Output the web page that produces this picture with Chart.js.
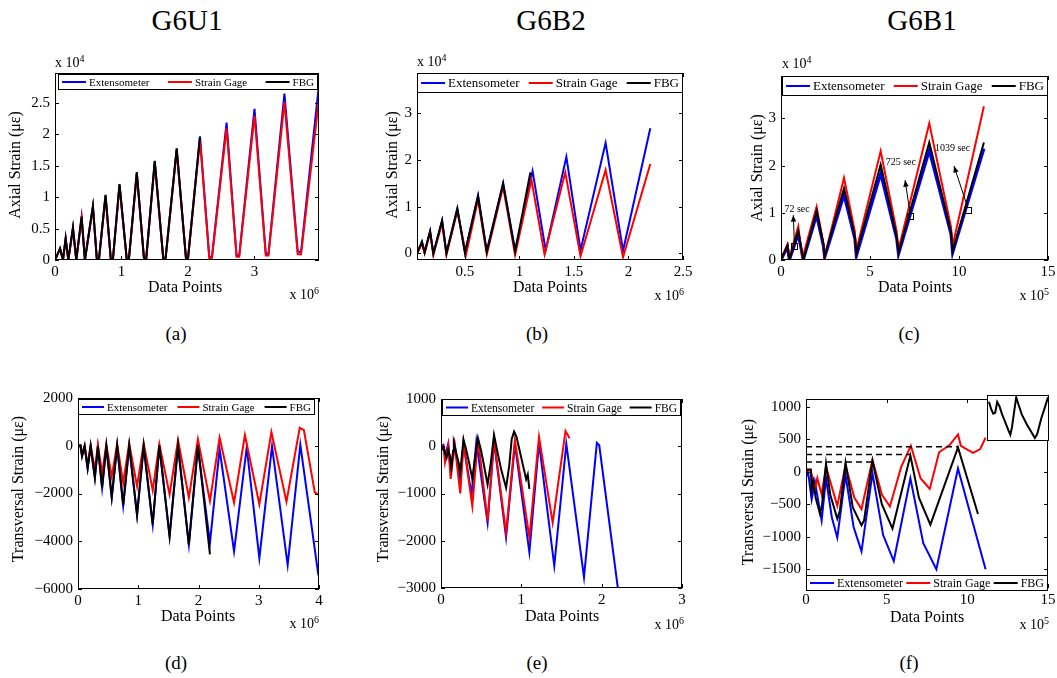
<!DOCTYPE html>
<html>
<head>
<meta charset="utf-8">
<script src="https://cdn.jsdelivr.net/npm/chart.js@4.4.0/dist/chart.umd.min.js"></script>
<style>
body{margin:0;background:#fff;width:1057px;height:678px;position:relative;overflow:hidden;font-family:"Liberation Serif","Times New Roman",serif;}
canvas{position:absolute;}
.t{position:absolute;white-space:nowrap;color:#000;line-height:1;}
.inset{position:absolute;left:987px;top:395px;width:60px;height:44px;border:1px solid #000;background:#fff;}
</style>
</head>
<body>
<script>
var FONT = '"Liberation Serif", "Times New Roman", serif';
var names = ['Extensometer', 'Strain Gage', 'FBG'];
var colors = ['#0000ff', '#ff0000', '#000000'];

// (a) G6U1 axial, x in 1e6, y in 1e4
var aXTicks = [0, 1, 2, 3];
var aYTicks = [0, 0.5, 1, 1.5, 2, 2.5];
var aExt = [[0,0],[0.076,0.18],[0.12,0],[0.16,0.34],[0.2,0],[0.27,0.51],[0.32,0],[0.40,0.68],[0.45,0],[0.57,0.85],[0.63,0],[0.66,0],[0.76,1.03],[0.84,0],[0.87,0],[0.97,1.2],[1.08,0],[1.11,0],[1.23,1.39],[1.34,0],[1.37,0],[1.5,1.57],[1.63,0],[1.66,0],[1.83,1.77],[1.97,0.03],[2.0,0.03],[2.18,1.97],[2.32,0.05],[2.36,0.05],[2.58,2.19],[2.73,0.07],[2.77,0.07],[3.0,2.41],[3.17,0.1],[3.21,0.1],[3.45,2.65],[3.65,0.13],[3.7,0.13],[3.97,2.8]];
var aGage = [[0,0],[0.076,0.17],[0.12,0],[0.16,0.33],[0.2,0],[0.27,0.5],[0.32,0],[0.40,0.67],[0.45,0],[0.57,0.84],[0.63,0],[0.66,0],[0.76,1.01],[0.84,0],[0.87,0],[0.97,1.18],[1.08,0],[1.11,0],[1.23,1.37],[1.34,0],[1.37,0],[1.5,1.55],[1.63,0],[1.66,0],[1.83,1.74],[1.97,0.02],[2.0,0.02],[2.18,1.92],[2.32,0.03],[2.36,0.03],[2.58,2.1],[2.73,0.05],[2.77,0.05],[3.0,2.3],[3.17,0.07],[3.21,0.07],[3.45,2.52],[3.65,0.09],[3.7,0.09],[3.97,2.57]];
var aFbg = [[0,0],[0.076,0.19],[0.12,0],[0.16,0.35],[0.2,0],[0.27,0.52],[0.32,0],[0.40,0.69],[0.45,0],[0.57,0.86],[0.63,0],[0.66,0],[0.76,1.04],[0.84,0],[0.87,0],[0.97,1.21],[1.08,0],[1.11,0],[1.23,1.4],[1.34,0],[1.37,0],[1.5,1.58],[1.63,0],[1.66,0],[1.83,1.78],[1.97,0.02],[2.0,0.02],[2.18,1.96]];

// (b) G6B2 axial, x in 1e6, y in 1e4
var bXTicks = [0.5, 1, 1.5, 2, 2.5];
var bYTicks = [0, 1, 2, 3];
var bExt = [[0.06,0],[0.105,0.245],[0.13,0.03],[0.18,0.48],[0.21,0],[0.29,0.70],[0.33,0.01],[0.43,0.96],[0.50,0.02],[0.62,1.24],[0.70,0.05],[0.85,1.50],[0.96,0.07],[1.12,1.76],[1.24,0.07],[1.43,2.06],[1.56,0.07],[1.79,2.36],[1.95,0.06],[2.2,2.67]];
var bGage = [[0.06,0],[0.105,0.2],[0.13,0],[0.18,0.45],[0.21,-0.03],[0.29,0.65],[0.33,-0.03],[0.43,0.9],[0.51,-0.02],[0.62,1.15],[0.70,-0.02],[0.85,1.42],[0.96,-0.03],[1.11,1.57],[1.23,-0.02],[1.42,1.73],[1.56,-0.06],[1.79,1.78],[1.95,-0.08],[2.2,1.91]];
var bFbg = [[0.06,0],[0.105,0.25],[0.13,0.02],[0.18,0.47],[0.21,0],[0.29,0.70],[0.33,0],[0.43,0.95],[0.50,0.01],[0.62,1.22],[0.70,0.03],[0.85,1.49],[0.96,0.04],[1.10,1.73]];

// (c) G6B1 axial, x in 1e5, y in 1e4
var cXTicks = [0, 5, 10, 15];
var cYTicks = [0, 1, 2, 3];
var cExt = [[0,0],[0.36,0.28],[0.47,0],[0.97,0.55],[1.25,0],[2.0,0.95],[2.38,0.3],[2.45,0.05],[3.54,1.38],[4.15,0.45],[4.23,0.08],[5.6,1.83],[6.5,0.45],[6.6,0.12],[8.33,2.32],[9.55,0.55],[9.64,0.15],[11.4,2.36]];
var cGage = [[0,0],[0.36,0.33],[0.47,0.05],[0.97,0.71],[1.2,0.03],[2.0,1.13],[2.36,0.4],[2.45,0.07],[3.54,1.74],[4.15,0.6],[4.21,0.17],[5.6,2.31],[6.5,0.6],[6.59,0.2],[8.33,2.90],[9.55,0.7],[9.64,0.3],[11.4,3.26]];
var cFbg = [[0,0],[0.36,0.31],[0.47,0],[0.97,0.62],[1.25,0],[2.0,1.04],[2.38,0.35],[2.45,0.08],[3.54,1.52],[4.15,0.5],[4.23,0.14],[5.6,2.02],[6.5,0.5],[6.6,0.16],[8.33,2.49],[9.55,0.6],[9.64,0.19],[11.4,2.49]];
var cNotes = [
  {text: '72 sec', tx: 0.19, ty: 1.07, sx: 0.75, sy: 0.30, ax: 0.69, ay: 0.95},
  {text: '725 sec', tx: 5.88, ty: 2.07, sx: 7.25, sy: 0.93, ax: 6.97, ay: 1.69},
  {text: '1039 sec', tx: 8.65, ty: 2.36, sx: 10.49, sy: 1.05, ax: 9.72, ay: 1.99}
];

// (d) G6U1 transversal, x in 1e6
var dXTicks = [0, 1, 2, 3, 4];
var dYTicks = [-6000, -4000, -2000, 0, 2000];
var dExt = [[0,0],[0.04,0],[0.067,-400],[0.11,-70],[0.16,-950],[0.21,-70],[0.28,-1320],[0.33,-70],[0.40,-1770],[0.47,-70],[0.56,-2170],[0.65,-40],[0.75,-2510],[0.85,-40],[0.98,-2900],[1.09,-70],[1.24,-3300],[1.35,-40],[1.52,-3780],[1.66,-40],[1.84,-4140],[1.99,-70],[2.19,-4070],[2.35,-140],[2.59,-4420],[2.8,-70],[3.01,-4710],[3.22,-30],[3.48,-5000],[3.69,40],[3.99,-5430]];
var dGage = [[0,0],[0.04,20],[0.067,-350],[0.11,0],[0.16,-800],[0.21,20],[0.28,-1000],[0.33,30],[0.40,-1150],[0.47,50],[0.56,-1290],[0.65,70],[0.75,-1560],[0.85,100],[0.98,-1700],[1.09,100],[1.24,-1860],[1.35,70],[1.52,-2040],[1.66,230],[1.84,-2170],[1.99,270],[2.19,-2310],[2.35,340],[2.59,-2380],[2.77,450],[3.01,-2450],[3.21,570],[3.46,-2340],[3.68,750],[3.75,650],[3.93,-1950],[3.99,-2050]];
var dFbg = [[0,0],[0.04,20],[0.067,-450],[0.11,0],[0.16,-950],[0.21,0],[0.28,-1350],[0.33,0],[0.40,-1750],[0.47,20],[0.56,-2150],[0.65,30],[0.75,-2500],[0.85,30],[0.98,-2900],[1.09,20],[1.24,-3300],[1.35,30],[1.52,-3800],[1.66,20],[1.84,-4150],[1.99,30],[2.19,-4550]];

// (e) G6B2 transversal, x in 1e6
var eXTicks = [0, 1, 2, 3];
var eYTicks = [-3000, -2000, -1000, 0, 1000];
var eExt = [[0,0],[0.03,30],[0.05,-200],[0.09,50],[0.12,-520],[0.17,50],[0.24,-760],[0.28,70],[0.38,-1030],[0.44,100],[0.58,-1620],[0.66,100],[0.81,-1930],[0.92,50],[1.10,-2240],[1.22,70],[1.41,-2530],[1.56,50],[1.78,-2770],[1.94,70],[1.97,20],[2.2,-2980]];
var eGage = [[0,0],[0.03,0],[0.05,-340],[0.09,30],[0.12,-690],[0.17,30],[0.24,-1000],[0.28,70],[0.39,-1270],[0.46,170],[0.58,-1580],[0.66,140],[0.81,-1830],[0.92,120],[1.10,-1930],[1.22,200],[1.39,-1620],[1.55,320],[1.6,170]];
var eFbg = [[0,0],[0.02,-60],[0.035,-30],[0.05,-150],[0.07,-240],[0.09,-80],[0.11,-200],[0.13,-450],[0.15,-100],[0.16,70],[0.19,-150],[0.22,-350],[0.24,-550],[0.26,-200],[0.28,140],[0.31,-50],[0.35,-350],[0.39,-690],[0.42,-300],[0.46,170],[0.5,-100],[0.54,-450],[0.58,-810],[0.62,-350],[0.66,240],[0.7,-100],[0.75,-500],[0.81,-880],[0.85,-400],[0.88,150],[0.91,310],[0.94,200],[0.98,-100],[1.02,-400],[1.06,-700],[1.08,-600],[1.1,-900]];

// (f) G6B1 transversal, x in 1e5
var fXTicks = [0, 5, 10, 15];
var fYTicks = [-1500, -1000, -500, 0, 500, 1000];
var fExt = [[0,-75],[0.14,-20],[0.35,-425],[0.55,-150],[0.97,-750],[1.24,-100],[1.6,-700],[1.94,-1015],[2.45,-50],[2.95,-850],[3.44,-1225],[4.12,-25],[4.78,-975],[5.44,-1375],[6.47,-100],[7.27,-1100],[8.08,-1500],[9.42,50],[10.3,-750],[11.13,-1500]];
var fGage = [[0,0],[0.29,25],[0.56,-275],[0.7,-100],[0.97,-350],[1.24,75],[1.94,-525],[2.45,100],[3.0,-400],[3.44,-575],[4.12,185],[4.7,-350],[5.2,-535],[5.9,75],[6.5,400],[7.1,-100],[7.67,-265],[8.25,300],[8.9,410],[9.42,575],[9.6,400],[10.35,290],[10.8,350],[11.13,525]];
var fFbg = [[0,0],[0.08,35],[0.3,35],[0.35,-275],[0.45,-150],[0.6,-400],[0.87,-650],[1.0,-500],[1.24,125],[1.5,-350],[1.94,-725],[2.1,-600],[2.45,140],[2.9,-550],[3.44,-825],[3.6,-750],[4.12,165],[4.7,-500],[5.36,-875],[6.47,250],[7.0,-400],[7.71,-815],[9.42,375],[10.66,-650]];
var fDash1 = [[0,385],[9.42,385]];
var fDash2 = [[0,265],[6.47,265]];
var fDash3 = [[0,150],[4.12,150]];
var fInset = [[0.16,8.66],[0.55,6.94],[0.87,5.97],[1.2,6.19],[1.53,8.66],[1.91,7.69],[2.35,5.82],[2.9,3.96],[3.44,2.09],[3.72,1.19],[3.99,2.84],[4.37,6.57],[4.7,9.7],[5.08,8.06],[5.63,5.82],[6.45,3.58],[7.27,1.72],[7.81,0.45],[8.2,1.34],[8.91,5.07],[9.45,7.31],[10,9.7]];

function fmt(v) {
  var r = Math.round(v * 1000) / 1000;
  return (r < 0 ? '\u2212' : '') + Math.abs(r);
}

function txt(html, x, y, size, anchor, rot) {
  var d = document.createElement('div');
  d.className = 't';
  d.innerHTML = html;
  d.style.left = x + 'px';
  d.style.top = y + 'px';
  d.style.fontSize = size + 'px';
  var tr = anchor == 'l' ? 'translate(0,-50%)' : anchor == 'r' ? 'translate(-100%,-50%)' : 'translate(-50%,-50%)';
  if (rot) tr += ' rotate(-90deg)';
  d.style.transform = tr;
  document.body.appendChild(d);
}

// axes box, inner ticks and boxed legend, matlab style
var boxPlugin = {
  id: 'matlabBox',
  afterDatasetsDraw: function(chart, args, opts) {
    var ctx = chart.ctx, a = chart.chartArea, sx = chart.scales.x, sy = chart.scales.y;
    ctx.save();
    ctx.strokeStyle = '#000';
    ctx.lineWidth = 1;
    ctx.strokeRect(Math.round(a.left) + 0.5, Math.round(a.top) + 0.5, Math.round(a.width) - 1, Math.round(a.height) - 1);
    ctx.beginPath();
    sx.ticks.forEach(function(t) {
      var p = Math.round(sx.getPixelForValue(t.value)) + 0.5;
      ctx.moveTo(p, a.bottom); ctx.lineTo(p, a.bottom - 4);
      ctx.moveTo(p, a.top); ctx.lineTo(p, a.top + 4);
    });
    sy.ticks.forEach(function(t) {
      var p = Math.round(sy.getPixelForValue(t.value)) + 0.5;
      ctx.moveTo(a.left, p); ctx.lineTo(a.left + 4, p);
      ctx.moveTo(a.right, p); ctx.lineTo(a.right - 4, p);
    });
    ctx.stroke();
    var lg = opts.legend;
    if (lg) {
      var x0 = Math.round(a.left + lg.dx), y0 = Math.round(a.top + lg.dy);
      ctx.fillStyle = '#fff';
      ctx.fillRect(x0, y0, lg.w, lg.h);
      ctx.strokeRect(x0 + 0.5, y0 + 0.5, lg.w - 1, lg.h - 1);
      ctx.font = lg.size + 'px ' + FONT;
      ctx.textBaseline = 'middle';
      var len = lg.len, tot = 0;
      var ws = names.map(function(n) { var w = ctx.measureText(n).width; tot += len + 3 + w; return w; });
      var gap = (lg.w - 8 - tot) / (names.length - 1);
      var cx = x0 + 4, cy = y0 + lg.h / 2;
      names.forEach(function(n, i) {
        ctx.strokeStyle = colors[i];
        ctx.lineWidth = 2;
        ctx.beginPath(); ctx.moveTo(cx, cy); ctx.lineTo(cx + len, cy); ctx.stroke();
        ctx.fillStyle = '#000';
        ctx.fillText(n, cx + len + 3, cy + 1);
        cx += len + 3 + ws[i] + gap;
      });
    }
    ctx.restore();
  }
};

var annotPlugin = {
  id: 'notes',
  afterDatasetsDraw: function(chart) {
    var ctx = chart.ctx, sx = chart.scales.x, sy = chart.scales.y;
    ctx.save();
    ctx.strokeStyle = '#000';
    ctx.fillStyle = '#000';
    ctx.lineWidth = 1;
    ctx.font = '10px ' + FONT;
    ctx.textBaseline = 'middle';
    cNotes.forEach(function(n) {
      var px = sx.getPixelForValue(n.sx), py = sy.getPixelForValue(n.sy);
      var qx = sx.getPixelForValue(n.ax), qy = sy.getPixelForValue(n.ay);
      ctx.strokeRect(Math.round(px - 3) + 0.5, Math.round(py - 3) + 0.5, 6, 6);
      ctx.beginPath(); ctx.moveTo(px, py - 3); ctx.lineTo(qx, qy); ctx.stroke();
      var ang = Math.atan2(qy - (py - 3), qx - px);
      ctx.beginPath();
      ctx.moveTo(qx, qy);
      ctx.lineTo(qx - 7 * Math.cos(ang - 0.4), qy - 7 * Math.sin(ang - 0.4));
      ctx.lineTo(qx - 7 * Math.cos(ang + 0.4), qy - 7 * Math.sin(ang + 0.4));
      ctx.closePath(); ctx.fill();
      ctx.fillText(n.text, sx.getPixelForValue(n.tx), sy.getPixelForValue(n.ty));
    });
    ctx.restore();
  }
};

function ds(data, i, extra) {
  var o = {
    data: data.map(function(p) { return {x: p[0], y: p[1]}; }),
    borderColor: colors[i], borderWidth: 2, pointRadius: 0, tension: 0, fill: false,
    order: i == 2 ? 0 : i == 1 ? 1 : 2
  };
  for (var k in extra) o[k] = extra[k];
  return o;
}

function axis(range, ticks, pad, fit) {
  return {
    type: 'linear', min: range[0], max: range[1],
    grid: {display: false, drawTicks: false, tickLength: 0}, border: {display: false},
    afterBuildTicks: function(s) { s.ticks = ticks.map(function(v) { return {value: v}; }); },
    afterFit: fit,
    ticks: {color: '#000', font: {family: FONT, size: 15}, callback: fmt, autoSkip: false, maxRotation: 0, padding: pad}
  };
}

function panel(area, xr, xt, yr, yt, sets, legend, more) {
  var L = area[0], T = area[1], R = area[2], B = area[3];
  var padT = 10, padR = 16, wy = 54, hx = 28;
  var cv = document.createElement('canvas');
  cv.width = (R - L) + wy + padR;
  cv.height = (B - T) + padT + hx;
  cv.style.left = (L - wy) + 'px';
  cv.style.top = (T - padT) + 'px';
  document.body.appendChild(cv);
  return new Chart(cv, {
    type: 'line',
    data: {datasets: sets},
    options: {
      responsive: false, animation: false, devicePixelRatio: 1, events: [],
      layout: {padding: {top: padT, right: padR, left: 0, bottom: 0}},
      plugins: {legend: {display: false}, tooltip: {enabled: false}, matlabBox: {legend: legend}},
      scales: {
        x: axis(xr, xt, 3, function(s) { s.height = hx; }),
        y: axis(yr, yt, 5, function(s) { s.width = wy; })
      }
    },
    plugins: [boxPlugin].concat(more || [])
  });
}

panel([55, 69, 319, 260], [0, 3.97], aXTicks, [0, 2.98], aYTicks,
  [ds(aExt, 0), ds(aGage, 1), ds(aFbg, 2)], {dx: 3, dy: 1, w: 260, h: 16, size: 11, len: 24});
panel([417, 69, 683, 260], [0.06, 2.5], bXTicks, [-0.14, 3.85], bYTicks,
  [ds(bExt, 0), ds(bGage, 1), ds(bFbg, 2)], {dx: 0, dy: 0, w: 266, h: 20, size: 13, len: 24});
panel([781, 72, 1048, 260], [0, 15], cXTicks, [0, 3.9], cYTicks,
  [ds(cExt, 0, {borderWidth: 3}), ds(cGage, 1), ds(cFbg, 2)], {dx: 1, dy: 0, w: 266, h: 20, size: 13, len: 24}, [annotPlugin]);
panel([78, 394, 319, 589], [0, 4], dXTicks, [-6000, 2000], dYTicks,
  [ds(dExt, 0), ds(dGage, 1), ds(dFbg, 2)], {dx: 0, dy: 1, w: 237, h: 16, size: 11, len: 22});
panel([441, 395, 682, 588], [0, 3], eXTicks, [-3000, 1000], eYTicks,
  [ds(eExt, 0), ds(eGage, 1), ds(eFbg, 2)], {dx: 1, dy: 0, w: 239, h: 17, size: 11.5, len: 22});
panel([806, 395, 1048, 588], [0, 15], fXTicks, [-1790, 1120], fYTicks,
  [ds(fExt, 0), ds(fGage, 1), ds(fFbg, 2),
   ds(fDash1, 2, {borderDash: [6, 4], borderWidth: 1.5}), ds(fDash2, 2, {borderDash: [6, 4], borderWidth: 1.5}), ds(fDash3, 2, {borderDash: [6, 4], borderWidth: 1.5})],
  {dx: 0, dy: 176, w: 242, h: 16, size: 12, len: 24});

// inset of (f)
var box = document.createElement('div');
box.className = 'inset';
document.body.appendChild(box);
var ic = document.createElement('canvas');
ic.width = 60; ic.height = 44;
ic.style.left = '0px'; ic.style.top = '0px';
box.appendChild(ic);
new Chart(ic, {
  type: 'line',
  data: {datasets: [ds(fInset, 2)]},
  options: {
    responsive: false, animation: false, devicePixelRatio: 1, events: [],
    layout: {padding: 0},
    plugins: {legend: {display: false}, tooltip: {enabled: false}},
    scales: {x: {type: 'linear', min: 0, max: 10, display: false}, y: {min: 0, max: 10, display: false}}
  }
});

// titles and axis labels
txt('G6U1', 187, 20, 29, 'c');
txt('G6B2', 551, 20, 29, 'c');
txt('G6B1', 922, 20, 29, 'c');
[['(a)', 176, 333], ['(b)', 537, 333], ['(c)', 909, 333], ['(d)', 176, 662], ['(e)', 537, 662], ['(f)', 909, 662]].forEach(function(l) {
  txt(l[0], l[1], l[2], 19, 'c');
});
txt('Axial Strain (\u03bc\u03b5)', 15, 165, 16, 'c', true);
txt('Axial Strain (\u03bc\u03b5)', 392, 165, 16, 'c', true);
txt('Axial Strain (\u03bc\u03b5)', 757, 168, 16, 'c', true);
txt('Transversal Strain (\u03bc\u03b5)', 18, 489, 16, 'c', true);
txt('Transversal Strain (\u03bc\u03b5)', 383, 489, 16, 'c', true);
txt('Transversal Strain (\u03bc\u03b5)', 748, 492, 16, 'c', true);
txt('Data Points', 185, 287, 16, 'c');
txt('Data Points', 550, 287, 16, 'c');
txt('Data Points', 915, 287, 16, 'c');
txt('Data Points', 198, 616, 16, 'c');
txt('Data Points', 562, 616, 16, 'c');
txt('Data Points', 927, 617, 16, 'c');
txt('x 10<sup style="font-size:10px">4</sup>', 55, 62, 14, 'l');
txt('x 10<sup style="font-size:10px">4</sup>', 417, 61, 14, 'l');
txt('x 10<sup style="font-size:10px">4</sup>', 782, 63, 14, 'l');
txt('x 10<sup style="font-size:10px">6</sup>', 319, 294, 14, 'r');
txt('x 10<sup style="font-size:10px">6</sup>', 684, 295, 14, 'r');
txt('x 10<sup style="font-size:10px">5</sup>', 1049, 295, 14, 'r');
txt('x 10<sup style="font-size:10px">6</sup>', 319, 623, 14, 'r');
txt('x 10<sup style="font-size:10px">6</sup>', 684, 624, 14, 'r');
txt('x 10<sup style="font-size:10px">5</sup>', 1049, 624, 14, 'r');
</script>
</body>
</html>
